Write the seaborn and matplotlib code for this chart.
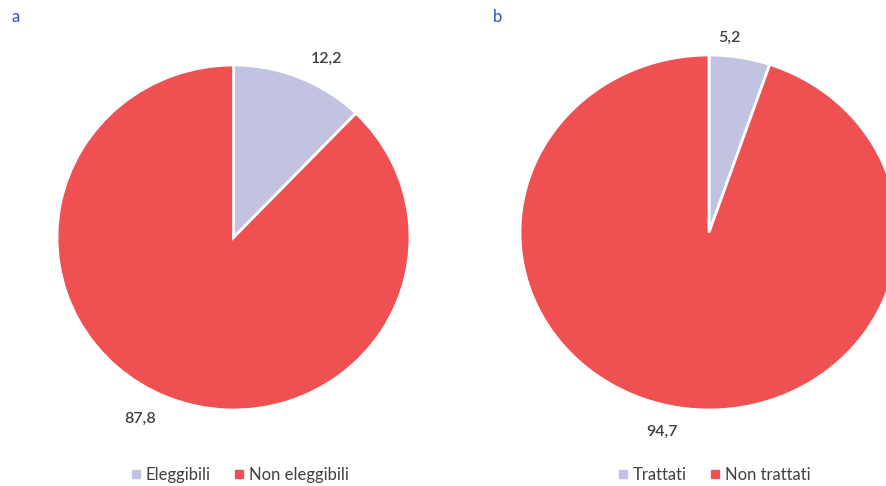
import matplotlib
matplotlib.use("Agg")
import matplotlib.pyplot as plt
from matplotlib.lines import Line2D
import seaborn as sns

sns.set_theme(style="white")
plt.rcParams['font.family'] = ['Lato', 'DejaVu Sans']

# Data
labels_a = ["Eleggibili", "Non eleggibili"]
values_a = [12.2, 87.8]
labels_b = ["Trattati", "Non trattati"]
values_b = [5.2, 94.7]
panel_titles = ["a", "b"]
colors = ["#C1C3E1", "#EF5152"]

W, H = 887, 486
fig = plt.figure(figsize=(W / 100, H / 100), dpi=100)


def px_axes(cx, rx, top, bottom):
    return fig.add_axes([(cx - rx) / W, (H - bottom) / H, 2 * rx / W, (bottom - top) / H])


def fmt(v):
    return f"{v:.1f}".replace(".", ",")


ax_a = px_axes(233.5, 176.5, 65, 410)
ax_b = px_axes(709, 189, 55, 410)

label_pos = {
    0: [(0.525, 1.035), (-0.53, -1.05)],
    1: [(0.106, 1.096), (-0.25, -1.124)],
}

for i, (ax, vals, labs) in enumerate([(ax_a, values_a, labels_a), (ax_b, values_b, labels_b)]):
    ax.pie(vals, colors=colors, startangle=90, counterclock=False,
           wedgeprops=dict(edgecolor="white", linewidth=2), radius=1.0)
    ax.set_aspect("auto")
    ax.set_xlim(-1, 1)
    ax.set_ylim(-1, 1)
    ax.axis("off")
    for v, (x, y) in zip(vals, label_pos[i]):
        ax.text(x, y, fmt(v), ha="center", va="center", fontsize=11.5,
                color="#3F3F3F", fontweight="semibold", clip_on=False)

fig.text(12 / W, 1 - 17 / H, panel_titles[0], fontsize=12, color="#3A4DB0", ha="left", va="center")
fig.text(493 / W, 1 - 17 / H, panel_titles[1], fontsize=12, color="#3A4DB0", ha="left", va="center")


def handles(labs):
    return [Line2D([0], [0], marker="s", linestyle="none", markersize=5.5,
                   markerfacecolor=c, markeredgecolor=c, label=l)
            for c, l in zip(colors, labs)]


for cx, labs in [(240, labels_a), (714, labels_b)]:
    fig.legend(handles=handles(labs), loc="center", bbox_to_anchor=(cx / W, 1 - 475 / H),
               ncol=2, frameon=False, fontsize=12, handlelength=0.6, handletextpad=0.3,
               columnspacing=1.4, labelcolor="#404040")

fig.savefig("out.png", dpi=100)
